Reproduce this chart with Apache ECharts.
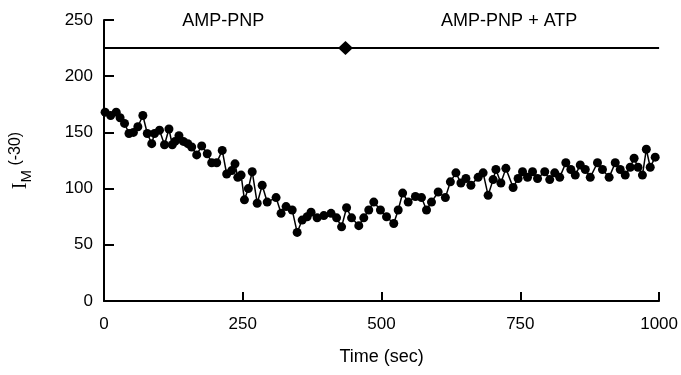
<!DOCTYPE html>
<html>
<head>
<meta charset="utf-8">
<script src="https://cdn.jsdelivr.net/npm/echarts@6/dist/echarts.min.js"></script>
<style>html,body{margin:0;padding:0;background:#fff;}#c{width:681px;height:375px;}</style>
</head>
<body>
<div id="c"></div>
<script>
// Time (sec) of each sample
const times = [2,12,22,29,37,45,53,61,70,78,86,91,100,109,117,123,128,135,143,151,158,167,176,186,194,203,213,221,230,236,241,247,253,260,267,276,285,294,310,319,328,339,348,357,366,373,384,396,409,419,428,437,446,459,468,477,486,498,509,522,530,538,548,561,572,581,590,602,615,624,634,643,652,661,674,683,692,701,706,715,724,737,746,754,763,772,781,794,803,812,821,832,841,849,858,867,876,889,898,910,921,930,939,948,955,962,970,977,984,993];
// I_M (-30) values
const values = [168,165,168,163,158,149,150,155,165,149,140,149,152,139,153,139,142,147,142,140,137,130,138,131,123,123,134,113,116,122,110,112,90,100,115,87,103,88,92,78,84,81,61,72,75,79,74,76,78,74,66,83,74,67,74,81,88,81,75,69,81,96,88,93,92,81,88,97,92,106,114,105,109,103,110,114,94,108,117,105,118,101,109,115,110,115,109,115,108,114,110,123,117,112,121,117,110,123,117,110,123,117,112,119,127,119,112,135,119,128];
// Top condition bar
const barLine = [[0,225],[1000,225]];
const diamond = [[435,225]];
const condLabels = [["AMP-PNP",215,249],["AMP-PNP + ATP",730,249]];
const xTicks = {min:0,max:1000,interval:250};
const yTicks = {min:0,max:250,interval:50};

const font = "'Liberation Sans', Arial, Helvetica, sans-serif";
const chart = echarts.init(document.getElementById('c'));
chart.setOption({
  animation:false,
  backgroundColor:'#fff',
  grid:{left:104,right:19,top:20,bottom:74,containLabel:false},
  xAxis:{
    type:'value', min:xTicks.min, max:xTicks.max, interval:xTicks.interval,
    axisLine:{lineStyle:{color:'#000',width:2}},
    axisTick:{inside:true,length:9,lineStyle:{color:'#000',width:2}},
    axisLabel:{color:'#000',fontSize:17,fontFamily:font,margin:15,formatter:v=>String(v)},
    splitLine:{show:false},
    name:'Time (sec)', nameLocation:'middle', nameGap:47,
    nameTextStyle:{color:'#000',fontSize:18,fontFamily:font}
  },
  yAxis:{
    type:'value', min:yTicks.min, max:yTicks.max, interval:yTicks.interval,
    axisLine:{show:true,lineStyle:{color:'#000',width:2}},
    axisTick:{show:true,inside:true,length:10,lineStyle:{color:'#000',width:2}},
    axisLabel:{color:'#000',fontSize:17,fontFamily:font,margin:11,formatter:v=>String(v)},
    splitLine:{show:false},
    name:'{i|I}{m|M}{p| (-30)}', nameLocation:'middle', nameRotate:90, nameGap:70,
    nameTextStyle:{
      color:'#000',
      rich:{
        i:{fontSize:20,fontFamily:"'Liberation Serif', 'Times New Roman', serif",color:'#000',lineHeight:26,verticalAlign:'middle'},
        m:{fontSize:15,fontFamily:font,color:'#000',lineHeight:26,verticalAlign:'bottom'},
        p:{fontSize:16,fontFamily:font,color:'#000',lineHeight:26,verticalAlign:'top'}
      }
    }
  },
  series:[
    {type:'line',data:barLine,symbol:'none',lineStyle:{color:'#000',width:2},silent:true},
    {type:'scatter',data:diamond,symbol:'diamond',symbolSize:[15,14],itemStyle:{color:'#000',opacity:1}},
    {type:'scatter',data:condLabels.map(d=>({value:[d[1],d[2]],name:d[0]})),symbolSize:0,
      itemStyle:{opacity:1},
      label:{show:true,position:'inside',formatter:p=>p.name,color:'#000',opacity:1,fontSize:18,fontFamily:font}},
    {type:'line',data:times.map((t,i)=>[t,values[i]]),symbol:'circle',symbolSize:9,showAllSymbol:true,
      itemStyle:{color:'#000',opacity:1},lineStyle:{color:'#000',width:1.5}}
  ]
});
</script>
</body>
</html>
